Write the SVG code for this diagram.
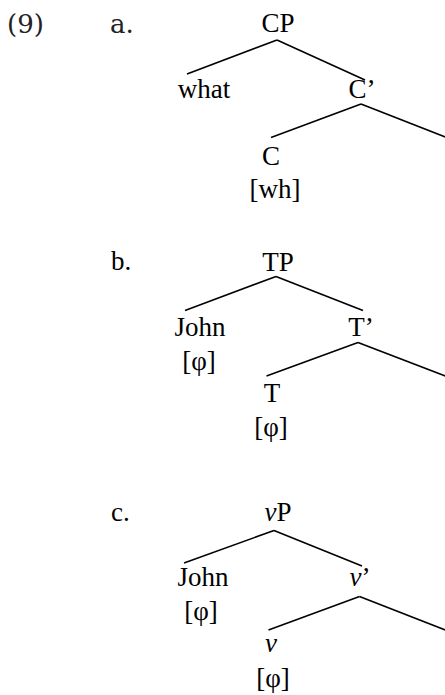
<svg xmlns="http://www.w3.org/2000/svg" width="445" height="695" viewBox="0 0 445 695">
<style>
text{font-family:"Liberation Serif","Times New Roman",serif;font-size:27px;fill:#000;text-anchor:middle}
.lab{text-anchor:start}
.num{font-family:"DejaVu Serif",serif;font-size:26px;text-anchor:start;fill:#222}
.it{font-style:italic}
#edges line{stroke:#000;stroke-width:1.6;stroke-linecap:butt}
</style>
<rect width="445" height="695" fill="#fff"/>
<g id="labels">
<text class="num" x="7" y="33">(9)</text>
<text class="num" x="110" y="33">a.</text>
<text class="lab" x="111" y="270">b.</text>
<text class="lab" x="111" y="521">c.</text>
</g>
<g id="edges">
<line x1="277" y1="40" x2="187" y2="74"/>
<line x1="277" y1="40" x2="365" y2="80"/>
<line x1="361" y1="104" x2="271" y2="137.5"/>
<line x1="361" y1="104" x2="448" y2="138"/>
<line x1="276" y1="276.5" x2="185" y2="310.5"/>
<line x1="276" y1="276.5" x2="363" y2="310.5"/>
<line x1="358" y1="342.5" x2="266.5" y2="376"/>
<line x1="358" y1="342.5" x2="448" y2="377"/>
<line x1="274" y1="530.5" x2="184" y2="563"/>
<line x1="274" y1="530.5" x2="362" y2="566"/>
<line x1="359.5" y1="596.5" x2="268.5" y2="630"/>
<line x1="359.5" y1="596.5" x2="448" y2="631"/>
</g>
<g id="treeA">
<g id="CP"><text x="278" y="32">CP</text></g>
<g id="what"><text x="204" y="97.5">what</text></g>
<g id="Cbar"><text x="362" y="97.5">C’</text></g>
<g id="C"><text x="271" y="165">C</text><text x="275" y="198">[wh]</text></g>
</g>
<g id="treeB">
<g id="TP"><text x="278" y="270.5">TP</text></g>
<g id="JohnB"><text x="200" y="335.5">John</text><text x="199" y="370">[φ]</text></g>
<g id="Tbar"><text x="361" y="335.5">T’</text></g>
<g id="T"><text x="272" y="402">T</text><text x="271" y="436">[φ]</text></g>
</g>
<g id="treeC">
<g id="vP"><text x="278" y="520.5"><tspan class="it">v</tspan>P</text></g>
<g id="JohnC"><text x="203" y="585.5">John</text><text x="201" y="620">[φ]</text></g>
<g id="vbar"><text x="360" y="585.5"><tspan class="it">v</tspan>’</text></g>
<g id="v"><text class="it" x="271" y="652">v</text><text x="273" y="687">[φ]</text></g>
</g>
</svg>
